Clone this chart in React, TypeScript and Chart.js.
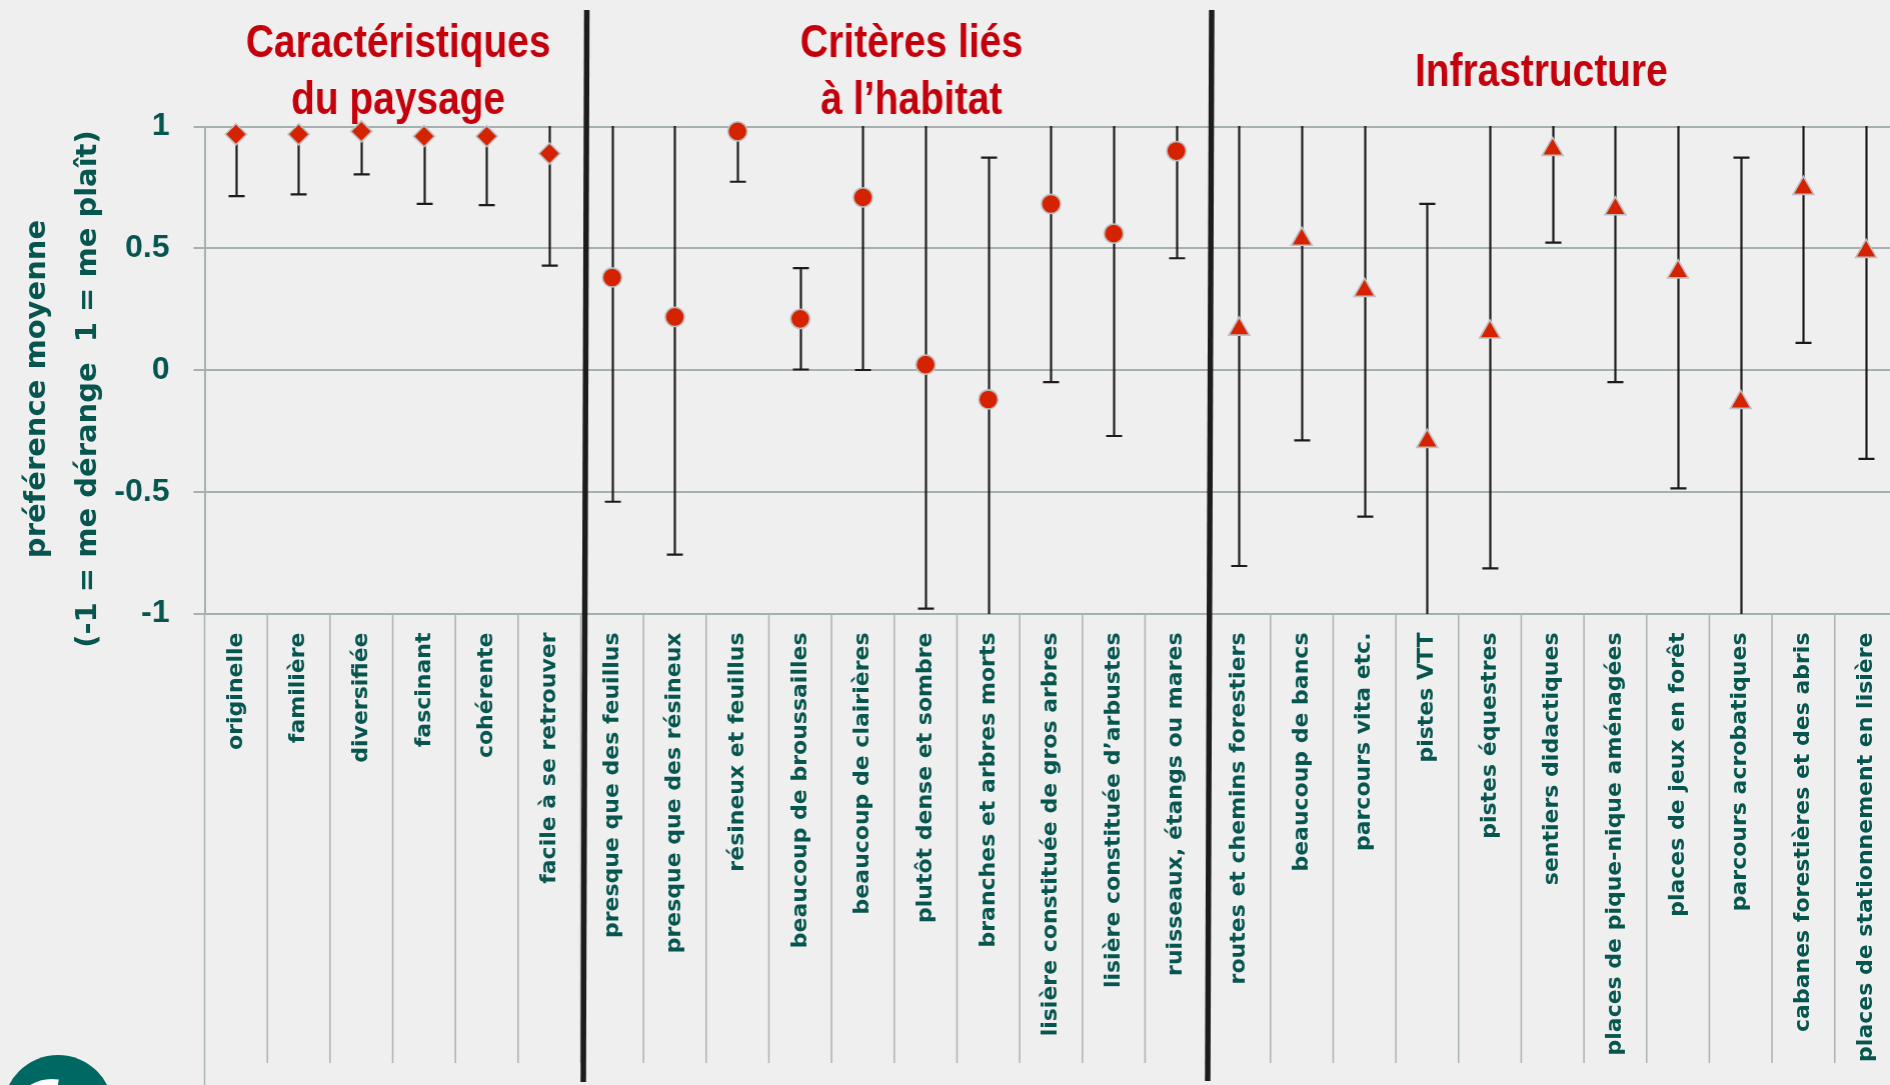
import { useEffect, useRef } from 'react';
import { Chart, registerables } from 'chart.js';

Chart.register(...registerables);

// ---------- DATA ----------
const caracLabels = ['originelle', 'familière', 'diversifiée', 'fascinant', 'cohérente', 'facile à se retrouver'];
const caracMeans = [0.968, 0.968, 0.98, 0.96, 0.96, 0.889];
const caracLow = [0.714, 0.721, 0.803, 0.682, 0.677, 0.429];
const caracHigh = [1.2, 1.2, 1.2, 1.2, 1.2, 1.2]; // beyond the axis top (clipped)

const habitatLabels = [
  'presque que des feuillus',
  'presque que des résineux',
  'résineux et feuillus',
  'beaucoup de broussailles',
  'beaucoup de clairières',
  'plutôt dense et sombre',
  'branches et arbres morts',
  'lisière constituée de gros arbres',
  'lisière constituée d’arbustes',
  'ruisseaux, étangs ou mares',
];
const habitatMeans = [0.38, 0.218, 0.98, 0.21, 0.709, 0.022, -0.121, 0.682, 0.56, 0.899];
const habitatLow = [-0.541, -0.758, 0.773, 0.002, 0.0, -0.98, -1.2, -0.05, -0.271, 0.459];
const habitatHigh = [1.2, 1.2, 1.2, 0.418, 1.2, 1.2, 0.872, 1.2, 1.2, 1.2];

const infraLabels = [
  'routes et chemins forestiers',
  'beaucoup de bancs',
  'parcours vita etc.',
  'pistes VTT',
  'pistes équestres',
  'sentiers didactiques',
  'places de pique-nique aménagées',
  'places de jeux en forêt',
  'parcours acrobatiques',
  'cabanes forestières et des abris',
  'places de stationnement en lisière',
];
const infraMeans = [0.168, 0.537, 0.327, -0.293, 0.156, 0.906, 0.662, 0.403, -0.133, 0.746, 0.487];
const infraLow = [-0.805, -0.289, -0.602, -1.2, -0.815, 0.523, -0.05, -0.486, -1.2, 0.111, -0.365];
const infraHigh = [1.2, 1.2, 1.2, 0.682, 1.2, 1.2, 1.2, 1.2, 0.872, 1.2, 1.2];

const groupTitles = [
  ['Caractéristiques', 'du paysage'],
  ['Critères liés', 'à l’habitat'],
  ['Infrastructure'],
];
const yTitleLines = ['préférence moyenne', '(-1 = me dérange  1 = me plaît)'];
const yTickValues = [-1, -0.5, 0, 0.5, 1];

// ---------- STYLE ----------
const BG = '#efefef';
const TEAL = '#06554f';
const RED_TITLE = '#c3000b';
const MARKER = '#d52200';
const MARKER_BORDER = '#bfbfbf';
const GRID = '#a6b0ae';
const SEP = '#aab3b1';
const W = 1910.5;
const H = 1085;

const categories = [...caracLabels, ...habitatLabels, ...infraLabels];
const N = categories.length;

function place<T>(arr: T[], before: number): (T | null)[] {
  const out: (T | null)[] = Array(N).fill(null);
  arr.forEach((v, i) => (out[before + i] = v));
  return out;
}

const decorPlugin = {
  id: 'decor',
  beforeDatasetsDraw(chart: any) {
    const ctx = chart.ctx;
    const area = chart.chartArea;
    const ys = chart.scales.y;
    const xs = chart.scales.x;
    // error bars
    ctx.save();
    ctx.beginPath();
    ctx.rect(area.left, area.top - 0.5, area.right - area.left, area.bottom - area.top + 1);
    ctx.clip();
    ctx.strokeStyle = '#1b1b1b';
    ctx.lineWidth = 2.2;
    const capHalf = 8;
    chart.data.datasets.forEach((ds: any) => {
      ds.data.forEach((v: number | null, i: number) => {
        if (v === null) return;
        const px = Math.round(xs.getPixelForValue(i)) + 0.5;
        const lo = ds.errLow[i];
        const hi = ds.errHigh[i];
        const pLo = ys.getPixelForValue(lo);
        const pHi = ys.getPixelForValue(hi);
        ctx.beginPath();
        ctx.moveTo(px, pLo);
        ctx.lineTo(px, pHi);
        if (lo >= ys.min) {
          ctx.moveTo(px - capHalf, pLo);
          ctx.lineTo(px + capHalf, pLo);
        }
        if (hi <= ys.max) {
          ctx.moveTo(px - capHalf, pHi);
          ctx.lineTo(px + capHalf, pHi);
        }
        ctx.stroke();
      });
    });
    ctx.restore();
  },
  afterDraw(chart: any) {
    const ctx = chart.ctx;
    const area = chart.chartArea;
    const xs = chart.scales.x;
    const w = xs.getPixelForValue(1) - xs.getPixelForValue(0);
    const first = xs.getPixelForValue(0) - w / 2;

    // category separators under the axis
    ctx.save();
    ctx.strokeStyle = SEP;
    ctx.lineWidth = 1.5;
    for (let i = 0; i <= N; i++) {
      const bx = first + i * w;
      ctx.beginPath();
      ctx.moveTo(bx, area.bottom);
      ctx.lineTo(bx, i === 0 ? H : 1063);
      ctx.stroke();
    }
    ctx.restore();

    // thick group separators
    ctx.save();
    ctx.strokeStyle = '#1c1c1c';
    ctx.lineWidth = 5.5;
    const seps = [
      [586.5, 10, 583, 1082],
      [1211, 10, 1207, 1081],
    ];
    seps.forEach(([x1, y1, x2, y2]) => {
      ctx.beginPath();
      ctx.moveTo(x1, y1);
      ctx.lineTo(x2, y2);
      ctx.stroke();
    });
    ctx.restore();

    // group titles
    ctx.save();
    ctx.fillStyle = RED_TITLE;
    ctx.textAlign = 'center';
    ctx.textBaseline = 'alphabetic';
    ctx.font = 'bold 46px "Liberation Sans", Arial, sans-serif';
    const titlePos = [
      { x: 398, ys: [57, 113.5] },
      { x: 911, ys: [57, 113.5] },
      { x: 1540.5, ys: [85.7] },
    ];
    groupTitles.forEach((lines, g) => {
      lines.forEach((t, j) => {
        ctx.save();
        ctx.translate(titlePos[g].x, titlePos[g].ys[j]);
        ctx.scale(0.845, 1);
        ctx.fillText(t, 0, 0);
        ctx.restore();
      });
    });
    ctx.restore();

    // y-axis title
    ctx.save();
    ctx.fillStyle = TEAL;
    ctx.textAlign = 'center';
    ctx.textBaseline = 'middle';
    ctx.font = 'bold 29px "DejaVu Sans", sans-serif';
    const yCenters = [37.6, 88.5];
    yTitleLines.forEach((t, j) => {
      ctx.save();
      ctx.translate(yCenters[j], 389);
      ctx.rotate(-Math.PI / 2);
      ctx.fillText(t, 0, 0);
      ctx.restore();
    });
    ctx.restore();

    // logo fragment (bottom-left)
    ctx.save();
    ctx.fillStyle = '#006862';
    ctx.beginPath();
    ctx.arc(58, 1110, 55, 0, Math.PI * 2);
    ctx.fill();
    ctx.strokeStyle = '#ffffff';
    ctx.lineWidth = 6;
    ctx.beginPath();
    ctx.arc(52, 1122, 40, Math.PI * 1.05, Math.PI * 1.55);
    ctx.stroke();
    ctx.restore();
  },
};

export default function App() {
  const ref = useRef<HTMLCanvasElement | null>(null);

  useEffect(() => {
    const canvas = ref.current;
    if (!canvas) return;
    const tickFont = { family: '"Liberation Sans Narrow", "Liberation Sans", Arial, sans-serif', weight: 'bold' as const, size: 32 };
    const pointCommon = {
      type: 'line' as const,
      showLine: false,
      pointBackgroundColor: MARKER,
      pointBorderColor: MARKER_BORDER,
      pointBorderWidth: 1.6,
      clip: false as any,
    };
    const chart = new Chart(canvas, {
      type: 'line',
      data: {
        labels: categories,
        datasets: [
          {
            ...pointCommon,
            label: 'Caractéristiques du paysage',
            data: place(caracMeans, 0),
            errLow: place(caracLow, 0),
            errHigh: place(caracHigh, 0),
            pointStyle: 'rectRot',
            pointRadius: 10.5,
          } as any,
          {
            ...pointCommon,
            label: 'Critères liés à l’habitat',
            data: place(habitatMeans, caracLabels.length),
            errLow: place(habitatLow, caracLabels.length),
            errHigh: place(habitatHigh, caracLabels.length),
            pointStyle: 'circle',
            pointRadius: 9.6,
          } as any,
          {
            ...pointCommon,
            label: 'Infrastructure',
            data: place(infraMeans, caracLabels.length + habitatLabels.length),
            errLow: place(infraLow, caracLabels.length + habitatLabels.length),
            errHigh: place(infraHigh, caracLabels.length + habitatLabels.length),
            pointStyle: 'triangle',
            pointRadius: 12,
          } as any,
        ],
      },
      options: {
        animation: false,
        responsive: false,
        devicePixelRatio: 1,
        layout: { padding: { top: 126.5, left: 0, right: 0, bottom: 0 } },
        plugins: { legend: { display: false }, tooltip: { enabled: false } },
        scales: {
          x: {
            type: 'category',
            offset: true,
            grid: { display: false },
            border: { display: false },
            ticks: {
              autoSkip: false,
              maxRotation: 90,
              minRotation: 90,
              padding: 11,
              color: TEAL,
              font: { family: '"DejaVu Sans", sans-serif', weight: 'bold', size: 22 },
            },
            afterFit: (s: any) => {
              s.height = 471.5;
            },
          },
          y: {
            min: -1,
            max: 1,
            afterBuildTicks: (s: any) => {
              s.ticks = yTickValues.map((v) => ({ value: v }));
            },
            ticks: {
              padding: 24,
              color: TEAL,
              font: tickFont,
              callback: (v: any) => String(v),
            },
            grid: { color: GRID, lineWidth: 2, tickLength: 11 },
            border: { display: true, color: GRID, width: 2 },
            afterFit: (s: any) => {
              s.width = 204.5;
            },
          },
        },
      },
      plugins: [decorPlugin],
    });
    return () => chart.destroy();
  }, []);

  return (
    <div
      style={{
        position: 'fixed',
        left: 0,
        top: 0,
        width: 1890,
        height: H,
        overflow: 'hidden',
        background: BG,
      }}
    >
      <canvas ref={ref} width={W} height={H} style={{ display: 'block', width: W, height: H }} />
    </div>
  );
}
